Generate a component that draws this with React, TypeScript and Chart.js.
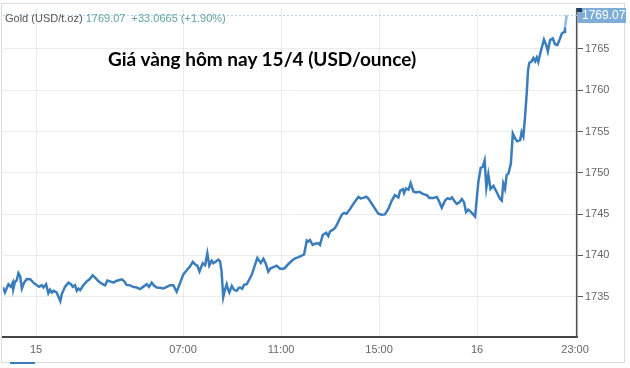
import React, { useEffect, useRef } from "react";
import { Chart, registerables } from "chart.js";

Chart.register(...registerables);

// time positions (session hours on the chart's compressed axis)
const times = [
  -0.35, -0.27, -0.13, -0.03, 0.05, 0.07, 0.14, 0.21, 0.28, 0.35, 0.42, 0.51, 0.62, 0.76, 0.89,
  1.03, 1.13, 1.23, 1.30, 1.41, 1.50, 1.57, 1.64, 1.71, 1.84, 1.99, 2.05, 2.18, 2.32, 2.42,
  2.50, 2.59, 2.66, 2.73, 2.80, 2.93, 3.05, 3.18, 3.31, 3.41, 3.54, 3.68, 3.82, 3.91, 4.02,
  4.16, 4.27, 4.50, 4.59, 4.70, 4.84, 4.96, 5.11, 5.24, 5.37, 5.52, 5.61, 5.72, 5.82, 5.93,
  6.06, 6.20, 6.33, 6.47, 6.60, 6.74, 6.88, 7.01, 7.15, 7.29, 7.40, 7.49, 7.58, 7.67, 7.80,
  7.90, 7.99, 8.07, 8.17, 8.24, 8.38, 8.44, 8.51, 8.57, 8.64, 8.71, 8.78, 8.84, 8.89, 8.99,
  9.08, 9.19, 9.27, 9.33, 9.41, 9.49, 9.60, 9.69, 9.80, 9.92, 10.03, 10.10, 10.17, 10.28, 10.37,
  10.48, 10.57, 10.69, 10.82, 10.96, 11.09, 11.16, 11.29, 11.44, 11.57, 11.69, 11.84, 11.94, 12.05, 12.11,
  12.18, 12.29, 12.41, 12.52, 12.59, 12.70, 12.84, 12.93, 13.00, 13.12, 13.20, 13.27, 13.37, 13.48, 13.57,
  13.67, 13.82, 13.95, 14.09, 14.16, 14.25, 14.36, 14.47, 14.56, 14.70, 14.84, 14.97, 15.11, 15.24, 15.38,
  15.52, 15.65, 15.79, 15.86, 15.97, 16.02, 16.10, 16.20, 16.29, 16.40, 16.51, 16.64, 16.81, 16.95, 17.05,
  17.22, 17.36, 17.46, 17.56, 17.69, 17.79, 17.90, 17.98, 18.06, 18.17, 18.28, 18.38, 18.47, 18.55, 18.64,
  18.76, 18.85, 18.92, 19.05, 19.15, 19.23, 19.31, 19.38, 19.46, 19.55, 19.67, 19.80, 19.94, 20.01, 20.07,
  20.14, 20.21, 20.28, 20.38, 20.46, 20.55, 20.64, 20.76, 20.82, 20.89, 20.96, 21.03, 21.08, 21.13, 21.23,
  21.30, 21.37, 21.44, 21.50, 21.60, 21.73, 21.82, 21.89, 21.98, 22.09, 22.18, 22.28, 22.39, 22.46, 22.55,
  22.59, 22.66,
];

// gold price, USD per troy ounce
const prices = [
  1736.13, 1735.51, 1736.51, 1736.19, 1736.70, 1735.92, 1736.82, 1736.99, 1737.86, 1737.50, 1735.99, 1736.70, 1737.14, 1737.11, 1736.70,
  1736.39, 1736.19, 1736.39, 1736.11, 1736.51, 1735.42, 1735.83, 1735.51, 1735.71, 1735.51, 1734.46, 1735.32, 1736.19, 1736.70, 1736.51,
  1736.19, 1736.39, 1735.71, 1735.99, 1735.80, 1736.39, 1736.79, 1737.11, 1737.58, 1737.30, 1736.90, 1736.58, 1736.37, 1736.96, 1736.85,
  1736.70, 1736.90, 1737.11, 1736.90, 1736.43, 1736.37, 1736.19, 1736.11, 1735.92, 1736.19, 1736.51, 1736.19, 1736.70, 1736.31, 1736.11,
  1736.07, 1735.99, 1736.19, 1736.39, 1736.39, 1735.60, 1736.67, 1737.70, 1738.21, 1738.69, 1739.23, 1738.93, 1738.77, 1738.06, 1739.05,
  1738.81, 1740.24, 1738.77, 1739.35, 1739.05, 1739.35, 1739.49, 1739.29, 1738.10, 1734.94, 1735.83, 1736.51, 1735.83, 1735.51, 1736.31,
  1735.83, 1735.71, 1736.07, 1736.11, 1735.95, 1736.43, 1736.51, 1737.02, 1737.62, 1738.69, 1739.68, 1739.40, 1739.08, 1739.58, 1739.05,
  1738.04, 1738.45, 1738.57, 1738.75, 1738.39, 1738.39, 1738.49, 1738.93, 1739.35, 1739.64, 1739.76, 1739.96, 1740.12, 1741.81, 1741.67,
  1741.87, 1741.27, 1741.43, 1741.46, 1741.27, 1742.46, 1742.74, 1742.35, 1742.92, 1743.10, 1743.33, 1743.65, 1744.29, 1744.92, 1745.15,
  1745.04, 1745.63, 1746.23, 1746.82, 1747.08, 1746.90, 1746.96, 1747.11, 1746.90, 1746.25, 1745.63, 1745.04, 1744.92, 1744.96, 1745.63,
  1746.63, 1747.30, 1747.02, 1747.82, 1748.01, 1747.54, 1748.10, 1747.94, 1748.75, 1747.74, 1747.62, 1747.70, 1747.42, 1747.30, 1746.96,
  1746.96, 1747.08, 1746.49, 1745.77, 1746.63, 1746.90, 1746.82, 1747.02, 1746.63, 1746.23, 1746.43, 1746.82, 1746.43, 1745.24, 1745.54,
  1745.24, 1744.94, 1744.70, 1748.81, 1750.60, 1750.71, 1751.49, 1748.21, 1749.80, 1748.04, 1748.42, 1747.68, 1746.82, 1746.63, 1748.69,
  1748.04, 1749.76, 1749.88, 1751.13, 1754.76, 1754.17, 1753.81, 1753.96, 1754.94, 1754.40, 1756.79, 1759.76, 1762.38, 1763.30, 1763.49,
  1763.89, 1763.49, 1763.96, 1763.42, 1764.68, 1766.13, 1765.48, 1764.70, 1766.07, 1766.27, 1765.56, 1765.48, 1766.27, 1766.87, 1767.06,
  1767.62, 1769.07,
];

const xTickPositions = [1, 7, 11, 15, 19, 23];
const xTickLabels = ["15", "07:00", "11:00", "15:00", "16", "23:00"];
const yTickValues = [1735, 1740, 1745, 1750, 1755, 1760, 1765];

const titleText = "Giá vàng hôm nay 15/4 (USD/ounce)";
const headerName = "Gold (USD/t.oz)";
const headerPrice = "1769.07";
const headerChange = "+33.0665 (+1.90%)";

const lastPricePlugin = {
  id: "lastPrice",
  afterDatasetsDraw(chart: any) {
    const { ctx, chartArea, scales } = chart;
    const last = prices[prices.length - 1];
    const y = scales.y.getPixelForValue(last);
    ctx.save();
    ctx.strokeStyle = "#b9d3ea";
    ctx.lineWidth = 1;
    ctx.setLineDash([2, 2]);
    ctx.beginPath();
    ctx.moveTo(chartArea.left, Math.round(y) + 0.5);
    ctx.lineTo(chartArea.right, Math.round(y) + 0.5);
    ctx.stroke();
    ctx.setLineDash([]);
    const bx = chartArea.right + 1;
    const by = Math.round(y) - 7;
    ctx.fillStyle = "#7eaed8";
    ctx.fillRect(bx, by, 48, 15);
    ctx.fillStyle = "#1f3f66";
    ctx.fillRect(bx - 1, by, 5, 4);
    ctx.fillStyle = "#ffffff";
    ctx.font = "12px 'Liberation Sans', Arial, sans-serif";
    ctx.textBaseline = "middle";
    ctx.textAlign = "left";
    ctx.fillText(headerPrice.toString(), bx + 4, by + 8);
    ctx.restore();
  },
};

export default function App() {
  const canvasRef = useRef<HTMLCanvasElement | null>(null);

  useEffect(() => {
    const canvas = canvasRef.current;
    if (!canvas) return;
    const data = times.map((t, i) => ({ x: t, y: prices[i] }));
    const lastIdx = data.length - 1;
    const chart = new Chart(canvas, {
      type: "line",
      data: {
        datasets: [
          {
            data,
            borderColor: "#3a7dbd",
            borderWidth: 2.5,
            pointRadius: 0,
            tension: 0,
            fill: false,
            segment: {
              borderColor: (c: any) => (c.p1DataIndex === lastIdx ? "#8fbbe0" : "#3a7dbd"),
            },
          },
        ],
      },
      options: {
        responsive: false,
        animation: false,
        events: [],
        layout: { padding: { left: 3, top: 3, right: 0, bottom: 0 } },
        plugins: { legend: { display: false }, tooltip: { enabled: false }, title: { display: false } },
        scales: {
          x: {
            type: "linear",
            min: -0.35,
            max: 23.08,
            afterBuildTicks: (scale: any) => {
              scale.ticks = xTickPositions.map((v) => ({ value: v }));
            },
            afterFit: (scale: any) => {
              scale.height = 31;
            },
            ticks: {
              autoSkip: false,
              maxRotation: 0,
              padding: 6,
              color: "#666",
              font: { family: "'Liberation Sans', Arial, sans-serif", size: 11 },
              callback: (v: any) => {
                const i = xTickPositions.indexOf(v);
                return i >= 0 ? xTickLabels[i] : "";
              },
            },
            grid: { color: "#ececec", lineWidth: 1, drawTicks: false },
            border: { color: "#444", width: 2 },
          },
          y: {
            type: "linear",
            position: "right",
            min: 1730.12,
            max: 1769.88,
            afterBuildTicks: (scale: any) => {
              scale.ticks = yTickValues.map((v) => ({ value: v }));
            },
            afterFit: (scale: any) => {
              scale.width = 53;
            },
            ticks: {
              padding: 2,
              color: "#666",
              font: { family: "'Liberation Sans', Arial, sans-serif", size: 11 },
              callback: (v: any) => String(v),
            },
            grid: { color: "#ececec", lineWidth: 1, tickLength: 6, tickColor: "#555", tickWidth: 1 },
            border: { color: "#555", width: 1.5 },
          },
        },
      },
      plugins: [lastPricePlugin],
    } as any);
    return () => chart.destroy();
  }, []);

  return (
    <div style={{ position: "absolute", left: 0, top: 0, width: 630, height: 368, background: "#fff", overflow: "hidden" }}>
      <div
        style={{
          position: "absolute",
          left: 1,
          top: 3,
          width: 624,
          height: 360,
          border: "1px solid #dcdcdc",
          boxSizing: "border-box",
        }}
      />
      <canvas ref={canvasRef} width={630} height={368} style={{ position: "absolute", left: 0, top: 0, display: "block" }} />
      <div
        style={{
          position: "absolute",
          left: 5,
          top: 11,
          fontFamily: "'Liberation Sans', Arial, sans-serif",
          fontSize: 11,
          lineHeight: "14px",
          whiteSpace: "pre",
          color: "#555",
        }}
      >
        {headerName}
        <span style={{ color: "#5fa39c" }}>{" " + headerPrice + "  " + headerChange}</span>
      </div>
      <div
        style={{
          position: "absolute",
          left: 108,
          top: 47,
          fontFamily: "Lato, 'Open Sans', sans-serif",
          fontWeight: 700,
          fontSize: 19,
          lineHeight: "24px",
          color: "#000",
          whiteSpace: "nowrap",
        }}
      >
        {titleText}
      </div>
      <div style={{ position: "absolute", left: 10, top: 362, width: 25, height: 2, background: "#3a7dbd" }} />
    </div>
  );
}
